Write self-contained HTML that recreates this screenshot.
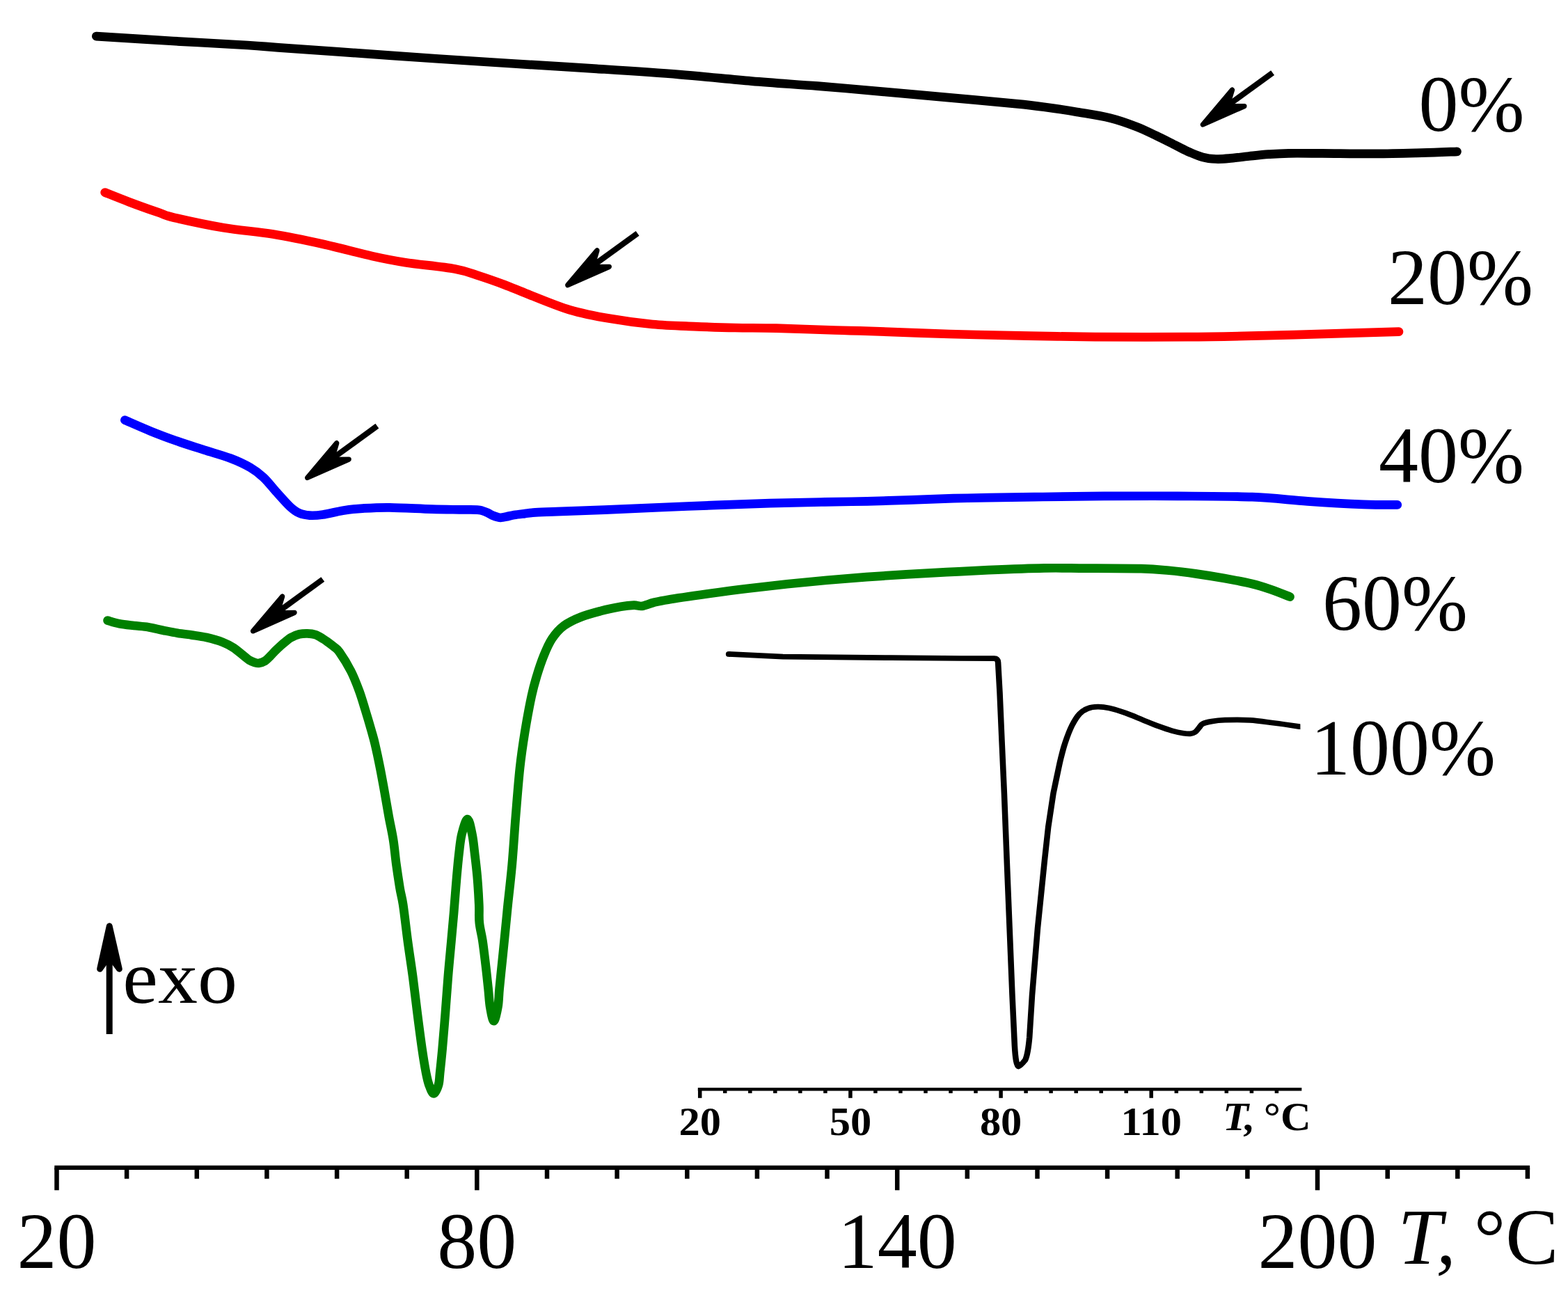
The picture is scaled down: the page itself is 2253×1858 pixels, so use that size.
<!DOCTYPE html>
<html lang="en">
<head>
<meta charset="utf-8">
<title>DSC curves</title>
<style>
html,body{margin:0;padding:0;background:#fff;}
body{width:2253px;height:1858px;overflow:hidden;}
svg{display:block;}
text{font-family:"Liberation Serif","DejaVu Serif",serif;fill:#000;}
.lab{font-size:114px;}
.ax{font-size:114px;}
.in{font-size:56.5px;font-weight:bold;}
.it{font-style:italic;}
.curve{fill:none;stroke-linejoin:round;}
</style>
</head>
<body>
<svg xmlns="http://www.w3.org/2000/svg" width="2253" height="1858" viewBox="0 0 2253 1858">
<rect x="0" y="0" width="2253" height="1858" fill="#fff"/>
<path class="curve" d="M138.3,52.1C156.7,53.2 212.6,56.9 248.8,59.0C285.0,61.1 330.5,63.4 355.7,65.0C380.9,66.6 378.2,66.8 400.0,68.4C421.8,70.0 448.0,71.7 486.3,74.4C524.6,77.1 587.9,81.7 630.0,84.5C672.1,87.3 700.9,89.1 738.8,91.5C776.7,93.9 817.9,96.2 857.5,98.8C897.1,101.4 939.2,104.1 976.3,107.1C1013.4,110.1 1046.9,113.8 1080.0,116.6C1113.1,119.4 1143.3,121.2 1175.0,123.7C1206.7,126.2 1238.3,129.0 1270.0,131.8C1301.7,134.6 1333.3,137.5 1365.0,140.4C1396.7,143.3 1437.5,146.9 1460.0,149.1C1482.5,151.3 1485.4,151.7 1500.0,153.7C1514.6,155.7 1531.7,158.2 1547.5,160.9C1563.3,163.6 1580.8,166.1 1595.0,169.6C1609.2,173.1 1621.9,177.8 1633.0,182.1C1644.1,186.3 1652.0,190.6 1661.5,195.1C1671.0,199.6 1682.1,205.4 1690.0,209.3C1697.9,213.2 1702.7,215.8 1709.0,218.6C1715.3,221.3 1721.7,224.2 1728.0,225.8C1734.3,227.5 1740.7,228.2 1747.0,228.5C1753.3,228.8 1758.1,228.4 1766.0,227.7C1773.9,227.0 1785.0,225.5 1794.5,224.5C1804.0,223.5 1813.5,222.4 1823.0,221.7C1832.5,221.0 1838.7,220.5 1851.5,220.3C1864.3,220.1 1879.2,220.3 1900.0,220.4C1920.8,220.5 1952.2,221.0 1976.0,220.9C1999.8,220.8 2023.4,220.1 2043.0,219.6C2062.6,219.1 2085.1,218.1 2093.5,217.8" stroke="#000" stroke-width="12.7" stroke-linecap="round"/>
<path class="curve" d="M150.7,276.5C156.5,278.8 172.6,285.3 185.5,290.2C198.4,295.1 217.6,301.9 228.3,305.6C239.1,309.4 234.5,309.1 250.0,312.7C265.5,316.3 297.6,323.3 321.3,327.3C345.1,331.3 368.8,332.7 392.5,336.6C416.2,340.5 440.1,345.6 463.8,350.8C487.6,356.1 515.2,363.7 535.0,368.1C554.8,372.5 562.7,374.1 582.5,377.2C602.3,380.2 636.0,383.1 653.8,386.4C671.6,389.6 677.5,392.9 689.4,396.7C701.3,400.5 713.3,404.8 725.0,409.2C736.7,413.6 743.8,417.0 759.4,423.0C775.0,429.0 799.0,439.4 818.8,445.3C838.6,451.2 858.3,454.7 878.1,458.1C897.9,461.6 917.7,464.2 937.5,466.0C957.3,467.8 977.1,468.3 996.9,469.1C1016.7,469.9 1036.5,470.6 1056.3,471.0C1076.1,471.4 1091.6,471.1 1115.6,471.7C1139.5,472.3 1177.6,473.8 1200.0,474.5C1222.4,475.2 1222.7,474.9 1250.0,475.8C1277.3,476.7 1326.0,478.9 1364.0,480.0C1402.0,481.1 1443.2,481.9 1478.0,482.6C1512.8,483.3 1535.0,483.8 1573.0,484.1C1611.0,484.4 1664.8,484.5 1706.0,484.2C1747.2,483.9 1782.0,483.1 1820.0,482.2C1858.0,481.3 1902.3,479.7 1934.0,478.8C1965.7,477.9 1997.3,477.0 2010.0,476.6" stroke="#ff0000" stroke-width="12.7" stroke-linecap="round"/>
<path class="curve" d="M179.4,603.7C185.7,606.4 204.4,614.7 217.0,619.8C229.6,624.9 242.3,629.6 255.0,634.1C267.7,638.6 280.3,642.4 293.0,646.5C305.7,650.6 319.9,654.3 331.0,658.5C342.1,662.7 351.6,667.2 359.5,671.8C367.4,676.4 372.2,680.1 378.5,686.0C384.8,691.9 391.2,700.3 397.5,707.3C403.8,714.3 411.1,722.8 416.5,727.8C421.9,732.8 425.1,735.2 429.8,737.3C434.6,739.4 439.3,740.2 445.0,740.6C450.7,741.0 456.1,740.6 464.0,739.5C471.9,738.4 483.0,735.2 492.5,733.7C502.0,732.2 509.8,731.3 521.0,730.6C532.2,729.9 543.4,729.1 560.0,729.3C576.6,729.5 603.7,731.1 620.4,731.6C637.1,732.1 649.1,732.2 660.0,732.4C670.9,732.6 680.1,732.3 685.6,732.6C691.1,732.9 690.7,733.3 693.2,734.0C695.7,734.7 698.3,735.8 700.8,736.9C703.3,738.0 705.9,739.8 708.4,740.9C710.9,742.0 714.1,742.9 716.0,743.4C717.9,743.9 717.9,743.9 719.8,743.8C721.7,743.6 724.2,743.1 727.4,742.5C730.6,741.9 734.4,740.7 738.8,740.0C743.2,739.3 748.9,738.7 754.0,738.1C759.1,737.5 761.5,736.9 769.2,736.4C776.9,735.9 783.4,735.7 800.0,735.1C816.6,734.5 837.5,734.0 868.8,732.7C900.0,731.4 947.9,729.1 987.5,727.5C1027.1,725.9 1073.4,724.2 1106.3,723.2C1139.2,722.2 1161.7,721.9 1185.0,721.4C1208.3,720.9 1225.2,720.8 1246.0,720.3C1266.8,719.8 1289.3,719.1 1310.0,718.4C1330.7,717.7 1351.7,716.7 1370.0,716.2C1388.3,715.7 1398.7,715.6 1420.0,715.2C1441.3,714.8 1470.3,714.4 1498.0,714.0C1525.7,713.6 1553.9,713.1 1586.4,712.9C1618.9,712.7 1657.3,712.7 1692.8,712.9C1728.3,713.1 1768.2,713.0 1799.2,714.2C1830.2,715.4 1852.4,718.5 1879.0,720.3C1905.6,722.1 1937.4,723.9 1958.9,724.8C1980.4,725.6 1999.7,725.3 2007.8,725.4" stroke="#0000ff" stroke-width="12.7" stroke-linecap="round"/>
<path class="curve" d="M154.6,891.6C157.4,892.4 165.1,895.1 171.4,896.3C177.7,897.5 185.3,898.2 192.3,899.0C199.3,899.8 206.2,900.1 213.2,901.2C220.2,902.3 227.1,904.3 234.1,905.7C241.1,907.1 248.0,908.6 255.0,909.7C262.0,910.9 268.9,911.6 275.9,912.6C282.9,913.6 289.4,914.3 296.8,916.0C304.2,917.7 313.6,920.3 320.0,922.8C326.4,925.2 330.1,927.4 335.2,930.7C340.3,934.0 346.6,939.6 350.4,942.6C354.2,945.6 355.5,947.0 358.0,948.5C360.5,950.0 363.3,951.2 365.6,951.9C367.9,952.6 369.2,953.3 371.7,952.9C374.2,952.5 378.0,951.4 380.8,949.7C383.6,948.0 385.9,945.3 388.4,942.8C390.9,940.3 393.5,937.3 396.0,934.8C398.5,932.3 401.1,929.9 403.6,927.6C406.1,925.3 408.7,923.2 411.2,921.2C413.7,919.2 415.6,917.4 418.8,915.8C422.0,914.1 426.4,912.2 430.2,911.3C434.0,910.4 437.8,910.2 441.6,910.3C445.4,910.4 449.2,910.7 453.0,912.0C456.8,913.3 461.2,916.2 464.4,918.1C467.6,920.0 469.4,921.5 472.0,923.4C474.6,925.3 477.4,927.2 480.0,929.5C482.6,931.8 483.6,931.2 487.7,937.0C491.8,942.8 499.6,955.2 504.3,964.5C509.1,973.8 512.8,983.8 516.2,993.0C519.6,1002.2 521.9,1010.6 524.8,1020.0C527.7,1029.4 531.2,1041.2 533.5,1049.4C535.8,1057.6 536.7,1060.0 538.8,1069.1C540.9,1078.1 543.9,1092.2 546.2,1103.7C548.5,1115.2 550.5,1126.8 552.6,1138.3C554.7,1149.8 556.5,1161.3 558.6,1172.8C560.7,1184.3 563.4,1195.9 565.2,1207.4C567.0,1218.9 567.8,1230.5 569.4,1242.0C571.0,1253.5 573.0,1266.8 574.6,1276.5C576.2,1286.2 577.3,1287.5 579.2,1300.0C581.1,1312.5 583.5,1334.5 585.8,1351.8C588.1,1369.1 590.9,1386.4 593.2,1403.7C595.5,1421.0 597.4,1438.2 599.6,1455.5C601.8,1472.8 604.4,1493.0 606.5,1507.4C608.6,1521.8 610.5,1533.4 612.2,1542.0C613.9,1550.6 614.7,1554.3 616.5,1559.2C618.3,1564.1 620.9,1571.5 623.1,1571.5C625.4,1571.5 628.5,1564.1 630.0,1559.2C631.5,1554.3 631.2,1550.6 632.1,1542.0C633.0,1533.4 634.3,1521.8 635.6,1507.4C636.9,1493.0 638.5,1472.8 639.9,1455.5C641.3,1438.2 642.4,1421.0 643.8,1403.7C645.2,1386.4 647.2,1366.2 648.5,1351.8C649.8,1337.4 650.9,1325.9 651.6,1317.3C652.4,1308.7 652.2,1309.7 653.0,1300.0C653.8,1290.3 655.2,1271.8 656.3,1259.2C657.4,1246.7 658.5,1234.8 659.7,1224.7C660.9,1214.6 661.5,1206.8 663.5,1198.8C665.5,1190.8 669.3,1177.0 671.8,1177.0C674.3,1177.0 676.7,1190.8 678.4,1198.8C680.1,1206.8 680.7,1214.6 681.9,1224.7C683.1,1234.8 684.6,1246.7 685.7,1259.2C686.8,1271.8 687.8,1288.9 688.3,1300.0C688.8,1311.1 687.9,1317.3 688.8,1325.9C689.6,1334.5 691.9,1341.7 693.4,1351.8C694.9,1361.9 696.4,1374.9 697.8,1386.4C699.2,1397.9 700.5,1410.9 701.6,1421.0C702.7,1431.1 702.9,1439.2 704.2,1446.9C705.5,1454.6 707.6,1467.1 709.5,1467.1C711.4,1467.1 714.0,1454.6 715.4,1446.9C716.8,1439.2 716.6,1431.1 717.6,1421.0C718.6,1410.9 719.9,1397.9 721.1,1386.4C722.3,1374.9 723.5,1363.3 724.6,1351.8C725.8,1340.3 727.1,1325.9 728.0,1317.3C728.9,1308.7 728.4,1312.5 729.7,1300.0C731.0,1287.5 733.9,1263.2 735.8,1242.0C737.7,1220.8 739.1,1195.8 741.0,1172.8C742.9,1149.8 744.8,1123.9 747.0,1103.7C749.2,1083.5 751.4,1069.1 754.2,1051.8C757.0,1034.5 760.9,1013.5 763.8,1000.0C766.7,986.5 768.5,980.6 771.4,971.0C774.3,961.4 777.6,951.4 781.2,942.5C784.8,933.6 788.4,925.0 793.2,917.8C798.1,910.6 803.3,904.4 810.3,899.2C817.3,894.0 826.1,890.0 835.0,886.5C843.9,883.0 854.0,880.4 863.5,877.9C873.0,875.4 884.1,873.2 892.0,871.8C899.9,870.4 905.9,869.9 911.0,869.7C916.1,869.6 917.6,871.5 922.4,870.9C927.1,870.2 933.2,867.3 939.5,865.8C945.8,864.3 947.1,863.8 960.0,861.7C972.9,859.6 998.0,856.0 1017.0,853.3C1036.0,850.6 1055.0,848.0 1074.0,845.7C1093.0,843.4 1112.0,841.3 1131.0,839.3C1150.0,837.3 1169.0,835.5 1188.0,833.8C1207.0,832.1 1226.0,830.6 1245.0,829.2C1264.0,827.8 1282.8,826.6 1302.0,825.4C1321.2,824.2 1340.3,823.2 1360.0,822.2C1379.7,821.2 1396.7,820.2 1420.0,819.2C1443.3,818.2 1476.7,816.8 1500.0,816.4C1523.3,816.0 1536.5,816.5 1559.8,816.6C1583.1,816.7 1619.6,816.7 1639.6,817.2C1659.5,817.7 1666.2,818.6 1679.5,819.8C1692.8,821.0 1706.1,822.7 1719.4,824.6C1732.7,826.5 1746.0,828.6 1759.3,831.0C1772.6,833.4 1788.1,836.3 1799.2,839.0C1810.3,841.7 1816.8,843.9 1825.8,847.0C1834.8,850.1 1848.9,855.8 1853.5,857.6" stroke="#008000" stroke-width="12.7" stroke-linecap="round"/>
<clipPath id="insetclip"><rect x="909.09" y="900" width="789.45" height="700"/></clipPath>
<g transform="scale(1.1,1)"><path clip-path="url(#insetclip)" d="M951.91,939.9 L1022.55,943.6 L1163.64,945.2 L1254.55,946 L1298.64,946 Q1303.36,946 1303.73,952 L1305.91,995 L1308.73,1066.3 L1311.73,1140 L1315.18,1236.7 L1318.73,1333.5 L1322.27,1430.2 L1325.36,1502.8 Q1326.82,1531 1330.36,1532.5 Q1332.73,1532 1339.18,1523.3 Q1342.73,1515 1344.73,1490.7 L1348.18,1430.2 L1355.45,1333.5 L1364.45,1236.7 L1369.27,1188.4 L1375.91,1140 C1376.73,1135.6 1379.27,1122.1 1380.91,1113.8C1382.55,1105.5 1383.82,1097.9 1385.64,1090.0C1387.45,1082.1 1389.18,1074.2 1391.64,1066.3C1394.09,1058.4 1397.18,1049.2 1400.27,1042.5C1403.36,1035.8 1406.55,1030.0 1410.00,1025.9C1413.45,1021.8 1416.82,1019.8 1420.82,1018.1C1424.82,1016.4 1429.18,1015.8 1433.82,1015.7C1438.45,1015.6 1442.82,1016.1 1448.91,1017.6C1455.00,1019.1 1463.27,1021.9 1470.45,1024.7C1477.64,1027.5 1484.91,1031.0 1492.09,1034.2C1499.27,1037.4 1507.18,1041.1 1513.64,1043.7C1520.09,1046.3 1525.45,1048.4 1530.91,1050.1C1536.36,1051.8 1542.09,1053.0 1546.09,1053.7C1550.09,1054.4 1552.18,1054.7 1554.73,1054.4C1557.27,1054.1 1559.18,1053.5 1561.18,1052.0C1563.18,1050.5 1564.91,1047.4 1566.55,1045.4C1568.18,1043.4 1568.18,1041.6 1570.91,1040.1C1573.64,1038.6 1577.91,1037.5 1582.73,1036.6C1587.55,1035.7 1591.73,1035.0 1600.00,1034.7C1608.27,1034.4 1621.64,1034.2 1632.45,1034.9C1643.27,1035.6 1653.82,1037.5 1664.82,1039.0C1675.82,1040.5 1690.91,1043.0 1698.27,1044.2C1705.64,1045.4 1707.27,1045.7 1709.09,1046.0" fill="none" stroke="#000" stroke-width="7.75" stroke-linejoin="round" stroke-linecap="butt"/><circle cx="951.91" cy="939.9" r="3.88" fill="#000"/></g>
<line x1="1828.6" y1="104.7" x2="1763.4" y2="152.0" stroke="#000" stroke-width="8.3" stroke-linecap="butt"/><polygon points="1728.3,179.0 1770.5,129.2 1763.4,153.0 1787.9,152.6" fill="#000" stroke="#000" stroke-width="7.3" stroke-linejoin="round"/>
<line x1="916.0" y1="335.4" x2="850.8" y2="382.7" stroke="#000" stroke-width="8.3" stroke-linecap="butt"/><polygon points="815.7,409.7 857.9,359.9 850.8,383.7 875.3,383.3" fill="#000" stroke="#000" stroke-width="7.3" stroke-linejoin="round"/>
<line x1="541.9" y1="612.2" x2="476.7" y2="659.5" stroke="#000" stroke-width="8.3" stroke-linecap="butt"/><polygon points="441.6,686.5 483.8,636.7 476.7,660.5 501.2,660.1" fill="#000" stroke="#000" stroke-width="7.3" stroke-linejoin="round"/>
<line x1="463.8" y1="832.5" x2="398.6" y2="879.8" stroke="#000" stroke-width="8.3" stroke-linecap="butt"/><polygon points="363.5,906.8 405.7,857.0 398.6,880.8 423.1,880.4" fill="#000" stroke="#000" stroke-width="7.3" stroke-linejoin="round"/>
<line x1="78.3" y1="1677.8" x2="2198.1" y2="1677.8" stroke="#000" stroke-width="6.2"/>
<line x1="81.5" y1="1677.8" x2="81.5" y2="1710.3" stroke="#000" stroke-width="6.5"/>
<line x1="182.1" y1="1677.8" x2="182.1" y2="1693.8" stroke="#000" stroke-width="6.5"/>
<line x1="282.8" y1="1677.8" x2="282.8" y2="1693.8" stroke="#000" stroke-width="6.5"/>
<line x1="383.4" y1="1677.8" x2="383.4" y2="1693.8" stroke="#000" stroke-width="6.5"/>
<line x1="484.1" y1="1677.8" x2="484.1" y2="1693.8" stroke="#000" stroke-width="6.5"/>
<line x1="584.7" y1="1677.8" x2="584.7" y2="1693.8" stroke="#000" stroke-width="6.5"/>
<line x1="685.3" y1="1677.8" x2="685.3" y2="1710.3" stroke="#000" stroke-width="6.5"/>
<line x1="786.0" y1="1677.8" x2="786.0" y2="1693.8" stroke="#000" stroke-width="6.5"/>
<line x1="886.6" y1="1677.8" x2="886.6" y2="1693.8" stroke="#000" stroke-width="6.5"/>
<line x1="987.3" y1="1677.8" x2="987.3" y2="1693.8" stroke="#000" stroke-width="6.5"/>
<line x1="1087.9" y1="1677.8" x2="1087.9" y2="1693.8" stroke="#000" stroke-width="6.5"/>
<line x1="1188.5" y1="1677.8" x2="1188.5" y2="1693.8" stroke="#000" stroke-width="6.5"/>
<line x1="1289.2" y1="1677.8" x2="1289.2" y2="1710.3" stroke="#000" stroke-width="6.5"/>
<line x1="1389.8" y1="1677.8" x2="1389.8" y2="1693.8" stroke="#000" stroke-width="6.5"/>
<line x1="1490.5" y1="1677.8" x2="1490.5" y2="1693.8" stroke="#000" stroke-width="6.5"/>
<line x1="1591.1" y1="1677.8" x2="1591.1" y2="1693.8" stroke="#000" stroke-width="6.5"/>
<line x1="1691.7" y1="1677.8" x2="1691.7" y2="1693.8" stroke="#000" stroke-width="6.5"/>
<line x1="1792.4" y1="1677.8" x2="1792.4" y2="1693.8" stroke="#000" stroke-width="6.5"/>
<line x1="1893.0" y1="1677.8" x2="1893.0" y2="1710.3" stroke="#000" stroke-width="6.5"/>
<line x1="1993.7" y1="1677.8" x2="1993.7" y2="1693.8" stroke="#000" stroke-width="6.5"/>
<line x1="2094.3" y1="1677.8" x2="2094.3" y2="1693.8" stroke="#000" stroke-width="6.5"/>
<line x1="2194.9" y1="1677.8" x2="2194.9" y2="1693.8" stroke="#000" stroke-width="6.5"/>
<text class="ax" x="81.5" y="1822" text-anchor="middle">20</text>
<text class="ax" x="685.3" y="1822" text-anchor="middle">80</text>
<text class="ax" x="1289.2" y="1822" text-anchor="middle">140</text>
<text class="ax" x="1893.0" y="1822" text-anchor="middle">200</text>
<text class="ax" y="1816"><tspan class="it" x="2008.5">T,</tspan><tspan x="2117.7">°C</tspan></text>
<line x1="1002.8" y1="1565.25" x2="1870.3" y2="1565.25" stroke="#000" stroke-width="4.6"/>
<line x1="1005.7" y1="1565.25" x2="1005.7" y2="1577.8" stroke="#000" stroke-width="5.5"/>
<line x1="1041.7" y1="1565.25" x2="1041.7" y2="1570.9" stroke="#000" stroke-width="5.5"/>
<line x1="1077.8" y1="1565.25" x2="1077.8" y2="1570.9" stroke="#000" stroke-width="5.5"/>
<line x1="1113.8" y1="1565.25" x2="1113.8" y2="1570.9" stroke="#000" stroke-width="5.5"/>
<line x1="1149.8" y1="1565.25" x2="1149.8" y2="1570.9" stroke="#000" stroke-width="5.5"/>
<line x1="1185.9" y1="1565.25" x2="1185.9" y2="1570.9" stroke="#000" stroke-width="5.5"/>
<line x1="1221.9" y1="1565.25" x2="1221.9" y2="1577.8" stroke="#000" stroke-width="5.5"/>
<line x1="1257.9" y1="1565.25" x2="1257.9" y2="1570.9" stroke="#000" stroke-width="5.5"/>
<line x1="1293.9" y1="1565.25" x2="1293.9" y2="1570.9" stroke="#000" stroke-width="5.5"/>
<line x1="1330.0" y1="1565.25" x2="1330.0" y2="1570.9" stroke="#000" stroke-width="5.5"/>
<line x1="1366.0" y1="1565.25" x2="1366.0" y2="1570.9" stroke="#000" stroke-width="5.5"/>
<line x1="1402.0" y1="1565.25" x2="1402.0" y2="1570.9" stroke="#000" stroke-width="5.5"/>
<line x1="1438.1" y1="1565.25" x2="1438.1" y2="1577.8" stroke="#000" stroke-width="5.5"/>
<line x1="1474.1" y1="1565.25" x2="1474.1" y2="1570.9" stroke="#000" stroke-width="5.5"/>
<line x1="1510.1" y1="1565.25" x2="1510.1" y2="1570.9" stroke="#000" stroke-width="5.5"/>
<line x1="1546.2" y1="1565.25" x2="1546.2" y2="1570.9" stroke="#000" stroke-width="5.5"/>
<line x1="1582.2" y1="1565.25" x2="1582.2" y2="1570.9" stroke="#000" stroke-width="5.5"/>
<line x1="1618.2" y1="1565.25" x2="1618.2" y2="1570.9" stroke="#000" stroke-width="5.5"/>
<line x1="1654.2" y1="1565.25" x2="1654.2" y2="1577.8" stroke="#000" stroke-width="5.5"/>
<line x1="1690.3" y1="1565.25" x2="1690.3" y2="1570.9" stroke="#000" stroke-width="5.5"/>
<line x1="1726.3" y1="1565.25" x2="1726.3" y2="1570.9" stroke="#000" stroke-width="5.5"/>
<line x1="1762.3" y1="1565.25" x2="1762.3" y2="1570.9" stroke="#000" stroke-width="5.5"/>
<line x1="1798.4" y1="1565.25" x2="1798.4" y2="1570.9" stroke="#000" stroke-width="5.5"/>
<line x1="1834.4" y1="1565.25" x2="1834.4" y2="1570.9" stroke="#000" stroke-width="5.5"/>
<text class="in" transform="translate(1005.7,1631.4) scale(1.07,1)" text-anchor="middle">20</text>
<text class="in" transform="translate(1221.9,1631.4) scale(1.07,1)" text-anchor="middle">50</text>
<text class="in" transform="translate(1438.1,1631.4) scale(1.07,1)" text-anchor="middle">80</text>
<text class="in" transform="translate(1654.2,1631.4) scale(1.07,1)" text-anchor="middle">110</text>
<text class="in it" transform="translate(1757,1624.3) scale(1.07,1)">T,</text>
<text class="in" transform="translate(1815.8,1624.3) scale(1.07,1)">°C</text>
<text class="lab" x="2038.5" y="188">0%</text>
<text class="lab" x="1994" y="437.2">20%</text>
<text class="lab" x="1981" y="693.4">40%</text>
<text class="lab" x="1900" y="904.8">60%</text>
<text class="lab" x="1883" y="1112.6">100%</text>
<line x1="157.2" y1="1486" x2="157.2" y2="1375" stroke="#000" stroke-width="9"/>
<polygon points="157.2,1330.6 171.4,1392.4 157.2,1373.1 143.5,1392.4" fill="#000" stroke="#000" stroke-width="8.8" stroke-linejoin="round"/>
<text class="lab" transform="translate(176.3,1440.6) scale(1,0.95)">exo</text>
</svg>
</body>
</html>
